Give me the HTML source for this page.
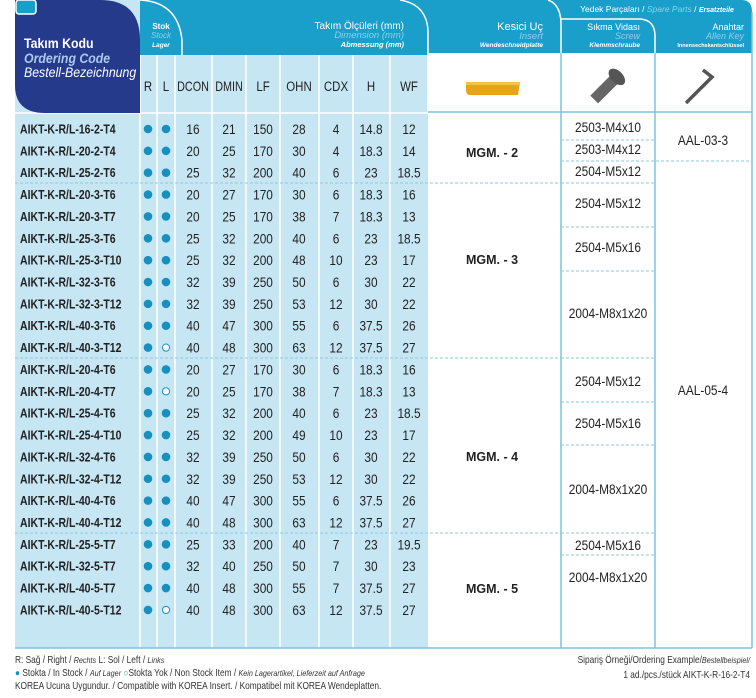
<!DOCTYPE html>
<html><head><meta charset="utf-8"><style>
html,body{margin:0;padding:0;background:#fff;width:756px;height:698px;overflow:hidden}
svg{display:block}
text{font-family:"Liberation Sans",sans-serif}
.n text{font-size:13.5px;fill:#222;text-anchor:middle}
.k{font-size:12.5px;font-weight:bold;fill:#222}
.s{font-size:13.5px;fill:#222;text-anchor:middle}
</style></head><body>
<svg width="756" height="698" viewBox="0 0 756 698" xmlns="http://www.w3.org/2000/svg">
<defs>
<g id="f"><circle cx="148" cy="0" r="4.3" fill="#1790c0"/><circle cx="166" cy="0" r="4.3" fill="#1790c0"/></g>
<g id="o"><circle cx="148" cy="0" r="4.3" fill="#1790c0"/><circle cx="166" cy="0" r="3.6" fill="#fff" stroke="#1790c0" stroke-width="1"/></g>
</defs>
<rect x="15" y="0" width="413" height="648" fill="#c7e6f4"/>
<g stroke="#ffffff" stroke-width="1.5">
<line x1="140" y1="55" x2="140" y2="648"/><line x1="157" y1="55" x2="157" y2="648"/>
<line x1="175" y1="55" x2="175" y2="648"/><line x1="212" y1="55" x2="212" y2="648"/>
<line x1="246" y1="55" x2="246" y2="648"/><line x1="280" y1="55" x2="280" y2="648"/>
<line x1="319" y1="55" x2="319" y2="648"/><line x1="353" y1="55" x2="353" y2="648"/>
<line x1="390" y1="55" x2="390" y2="648"/>
<line x1="15" y1="113" x2="428" y2="113"/>
</g>
<path d="M140 0 H742 Q752 0 752 12 V53 H428 V55 H140 Z" fill="#1a9fca"/>
<path d="M140 0 Q178 2 182 40 V55" fill="none" stroke="#fff" stroke-width="1.5"/>
<path d="M400 0 Q426 4 428 30 V112" fill="none" stroke="#fff" stroke-width="1.5"/>
<path d="M548 0 Q560 4 561 22 V112" fill="none" stroke="#fff" stroke-width="1.5"/>
<path d="M561 19 H640 Q655 20 655 36 V112" fill="none" stroke="#fff" stroke-width="1.5"/>
<rect x="428" y="53" width="324" height="60" fill="#fff"/>
<path d="M15 0 H100 Q140 0 140 40 V113 H45 Q15 113 15 85 Z" fill="#253a8b"/>
<rect x="16" y="0" width="20" height="14" rx="3" fill="#1a9fca" stroke="#fff" stroke-width="1.5"/>
<g transform="translate(24 0) scale(0.88 1)">
<text x="0" y="48" font-size="14" font-weight="bold" fill="#fff">Takım Kodu</text>
<text x="0" y="63" font-size="14" font-style="italic" font-weight="bold" fill="#a9c9ee">Ordering Code</text>
<text x="0" y="77" font-size="14" font-style="italic" fill="#fff">Bestell-Bezeichnung</text>
</g>
<text x="161" y="29" font-size="8" font-weight="bold" fill="#fff" text-anchor="middle">Stok</text>
<text x="161" y="38" font-size="8" font-style="italic" fill="#8fd0ea" text-anchor="middle">Stock</text>
<text x="161" y="47" font-size="6.5" font-style="italic" font-weight="bold" fill="#fff" text-anchor="middle">Lager</text>
<text x="404" y="29" font-size="10" fill="#fff" text-anchor="end">Takım Ölçüleri (mm)</text>
<text x="404" y="38" font-size="9.5" font-style="italic" fill="#8fd0ea" text-anchor="end">Dimension (mm)</text>
<text x="404" y="47" font-size="7.5" font-style="italic" font-weight="bold" fill="#fff" text-anchor="end">Abmessung (mm)</text>
<text x="543" y="30" font-size="11" fill="#fff" text-anchor="end">Kesici Uç</text>
<text x="543" y="39" font-size="9.5" font-style="italic" fill="#8fd0ea" text-anchor="end">Insert</text>
<text x="543" y="47" font-size="6.5" font-style="italic" font-weight="bold" fill="#fff" text-anchor="end">Wendeschneidplatte</text>
<text x="657" y="12" font-size="8.5" fill="#fff" text-anchor="middle">Yedek Parçaları / <tspan font-style="italic" fill="#8fd0ea">Spare Parts</tspan> / <tspan font-style="italic" font-weight="bold" font-size="7">Ersatzteile</tspan></text>
<text x="640" y="30" font-size="9" fill="#fff" text-anchor="end">Sıkma Vidası</text>
<text x="640" y="39" font-size="9" font-style="italic" fill="#8fd0ea" text-anchor="end">Screw</text>
<text x="640" y="47" font-size="6.5" font-style="italic" font-weight="bold" fill="#fff" text-anchor="end">Klemmschraube</text>
<text x="744" y="30" font-size="9" fill="#fff" text-anchor="end">Anahtar</text>
<text x="744" y="39" font-size="9" font-style="italic" fill="#8fd0ea" text-anchor="end">Allen Key</text>
<text x="744" y="47" font-size="5.5" font-weight="bold" fill="#fff" text-anchor="end">Innensechskantschlüssel</text>
<g class="n" transform="translate(0 91)">
<text transform="translate(148 0) scale(.85 1)">R</text><text transform="translate(166 0) scale(.85 1)">L</text>
<text transform="translate(193 0) scale(.8 1)">DCON</text><text transform="translate(229 0) scale(.8 1)">DMIN</text>
<text transform="translate(263 0) scale(.85 1)">LF</text><text transform="translate(299 0) scale(.85 1)">OHN</text>
<text transform="translate(336 0) scale(.85 1)">CDX</text><text transform="translate(371 0) scale(.85 1)">H</text>
<text transform="translate(409 0) scale(.85 1)">WF</text>
</g>
<path d="M466 82 H520 L518 95 H470 Q466 95 466 90 Z" fill="#e9a317"/>
<rect x="466" y="82" width="54" height="3" fill="#f5c343"/>
<g transform="rotate(-45 608 85)">
<rect x="588" y="80" width="28" height="11" fill="#666"/>
<ellipse cx="620" cy="85.5" rx="6" ry="10" fill="#555"/>
</g>
<path d="M686 103 L712 77 L703 70" fill="none" stroke="#555" stroke-width="3.5"/>
<g stroke="#7cc3de" stroke-width="1.5" fill="none">
<line x1="428" y1="112" x2="752" y2="112"/>
<line x1="561" y1="53" x2="561" y2="648"/>
<line x1="655" y1="53" x2="655" y2="648"/>
<line x1="752" y1="12" x2="752" y2="648"/>
<line x1="15" y1="648" x2="752" y2="648"/>
</g>
<g stroke="#8cc9e0" stroke-width="1" stroke-dasharray="3,2" fill="none">
<line x1="15" y1="183" x2="561" y2="183"/>
<line x1="15" y1="358" x2="561" y2="358"/>
<line x1="15" y1="533" x2="561" y2="533"/>
<line x1="561" y1="140" x2="655" y2="140"/>
<line x1="561" y1="161" x2="752" y2="161"/>
<line x1="561" y1="183" x2="655" y2="183"/>
<line x1="561" y1="227" x2="655" y2="227"/>
<line x1="561" y1="271" x2="655" y2="271"/>
<line x1="561" y1="358" x2="655" y2="358"/>
<line x1="561" y1="402" x2="655" y2="402"/>
<line x1="561" y1="445" x2="655" y2="445"/>
<line x1="561" y1="533" x2="655" y2="533"/>
<line x1="561" y1="555" x2="655" y2="555"/>
</g>

<g transform="translate(0 129)"><use href="#f"/><text class="k" transform="translate(20 4.5) scale(.84 1)">AIKT-K-R/L-16-2-T4</text><g class="n"><text transform="translate(193 5) scale(.88 1)">16</text><text transform="translate(229 5) scale(.88 1)">21</text><text transform="translate(263 5) scale(.88 1)">150</text><text transform="translate(299 5) scale(.88 1)">28</text><text transform="translate(336 5) scale(.88 1)">4</text><text transform="translate(371 5) scale(.88 1)">14.8</text><text transform="translate(409 5) scale(.88 1)">12</text></g></g>
<g transform="translate(0 150.86)"><use href="#f"/><text class="k" transform="translate(20 4.5) scale(.84 1)">AIKT-K-R/L-20-2-T4</text><g class="n"><text transform="translate(193 5) scale(.88 1)">20</text><text transform="translate(229 5) scale(.88 1)">25</text><text transform="translate(263 5) scale(.88 1)">170</text><text transform="translate(299 5) scale(.88 1)">30</text><text transform="translate(336 5) scale(.88 1)">4</text><text transform="translate(371 5) scale(.88 1)">18.3</text><text transform="translate(409 5) scale(.88 1)">14</text></g></g>
<g transform="translate(0 172.72)"><use href="#f"/><text class="k" transform="translate(20 4.5) scale(.84 1)">AIKT-K-R/L-25-2-T6</text><g class="n"><text transform="translate(193 5) scale(.88 1)">25</text><text transform="translate(229 5) scale(.88 1)">32</text><text transform="translate(263 5) scale(.88 1)">200</text><text transform="translate(299 5) scale(.88 1)">40</text><text transform="translate(336 5) scale(.88 1)">6</text><text transform="translate(371 5) scale(.88 1)">23</text><text transform="translate(409 5) scale(.88 1)">18.5</text></g></g>
<g transform="translate(0 194.58)"><use href="#f"/><text class="k" transform="translate(20 4.5) scale(.84 1)">AIKT-K-R/L-20-3-T6</text><g class="n"><text transform="translate(193 5) scale(.88 1)">20</text><text transform="translate(229 5) scale(.88 1)">27</text><text transform="translate(263 5) scale(.88 1)">170</text><text transform="translate(299 5) scale(.88 1)">30</text><text transform="translate(336 5) scale(.88 1)">6</text><text transform="translate(371 5) scale(.88 1)">18.3</text><text transform="translate(409 5) scale(.88 1)">16</text></g></g>
<g transform="translate(0 216.44)"><use href="#f"/><text class="k" transform="translate(20 4.5) scale(.84 1)">AIKT-K-R/L-20-3-T7</text><g class="n"><text transform="translate(193 5) scale(.88 1)">20</text><text transform="translate(229 5) scale(.88 1)">25</text><text transform="translate(263 5) scale(.88 1)">170</text><text transform="translate(299 5) scale(.88 1)">38</text><text transform="translate(336 5) scale(.88 1)">7</text><text transform="translate(371 5) scale(.88 1)">18.3</text><text transform="translate(409 5) scale(.88 1)">13</text></g></g>
<g transform="translate(0 238.3)"><use href="#f"/><text class="k" transform="translate(20 4.5) scale(.84 1)">AIKT-K-R/L-25-3-T6</text><g class="n"><text transform="translate(193 5) scale(.88 1)">25</text><text transform="translate(229 5) scale(.88 1)">32</text><text transform="translate(263 5) scale(.88 1)">200</text><text transform="translate(299 5) scale(.88 1)">40</text><text transform="translate(336 5) scale(.88 1)">6</text><text transform="translate(371 5) scale(.88 1)">23</text><text transform="translate(409 5) scale(.88 1)">18.5</text></g></g>
<g transform="translate(0 260.16)"><use href="#f"/><text class="k" transform="translate(20 4.5) scale(.84 1)">AIKT-K-R/L-25-3-T10</text><g class="n"><text transform="translate(193 5) scale(.88 1)">25</text><text transform="translate(229 5) scale(.88 1)">32</text><text transform="translate(263 5) scale(.88 1)">200</text><text transform="translate(299 5) scale(.88 1)">48</text><text transform="translate(336 5) scale(.88 1)">10</text><text transform="translate(371 5) scale(.88 1)">23</text><text transform="translate(409 5) scale(.88 1)">17</text></g></g>
<g transform="translate(0 282.02)"><use href="#f"/><text class="k" transform="translate(20 4.5) scale(.84 1)">AIKT-K-R/L-32-3-T6</text><g class="n"><text transform="translate(193 5) scale(.88 1)">32</text><text transform="translate(229 5) scale(.88 1)">39</text><text transform="translate(263 5) scale(.88 1)">250</text><text transform="translate(299 5) scale(.88 1)">50</text><text transform="translate(336 5) scale(.88 1)">6</text><text transform="translate(371 5) scale(.88 1)">30</text><text transform="translate(409 5) scale(.88 1)">22</text></g></g>
<g transform="translate(0 303.88)"><use href="#f"/><text class="k" transform="translate(20 4.5) scale(.84 1)">AIKT-K-R/L-32-3-T12</text><g class="n"><text transform="translate(193 5) scale(.88 1)">32</text><text transform="translate(229 5) scale(.88 1)">39</text><text transform="translate(263 5) scale(.88 1)">250</text><text transform="translate(299 5) scale(.88 1)">53</text><text transform="translate(336 5) scale(.88 1)">12</text><text transform="translate(371 5) scale(.88 1)">30</text><text transform="translate(409 5) scale(.88 1)">22</text></g></g>
<g transform="translate(0 325.74)"><use href="#f"/><text class="k" transform="translate(20 4.5) scale(.84 1)">AIKT-K-R/L-40-3-T6</text><g class="n"><text transform="translate(193 5) scale(.88 1)">40</text><text transform="translate(229 5) scale(.88 1)">47</text><text transform="translate(263 5) scale(.88 1)">300</text><text transform="translate(299 5) scale(.88 1)">55</text><text transform="translate(336 5) scale(.88 1)">6</text><text transform="translate(371 5) scale(.88 1)">37.5</text><text transform="translate(409 5) scale(.88 1)">26</text></g></g>
<g transform="translate(0 347.6)"><use href="#o"/><text class="k" transform="translate(20 4.5) scale(.84 1)">AIKT-K-R/L-40-3-T12</text><g class="n"><text transform="translate(193 5) scale(.88 1)">40</text><text transform="translate(229 5) scale(.88 1)">48</text><text transform="translate(263 5) scale(.88 1)">300</text><text transform="translate(299 5) scale(.88 1)">63</text><text transform="translate(336 5) scale(.88 1)">12</text><text transform="translate(371 5) scale(.88 1)">37.5</text><text transform="translate(409 5) scale(.88 1)">27</text></g></g>
<g transform="translate(0 369.46)"><use href="#f"/><text class="k" transform="translate(20 4.5) scale(.84 1)">AIKT-K-R/L-20-4-T6</text><g class="n"><text transform="translate(193 5) scale(.88 1)">20</text><text transform="translate(229 5) scale(.88 1)">27</text><text transform="translate(263 5) scale(.88 1)">170</text><text transform="translate(299 5) scale(.88 1)">30</text><text transform="translate(336 5) scale(.88 1)">6</text><text transform="translate(371 5) scale(.88 1)">18.3</text><text transform="translate(409 5) scale(.88 1)">16</text></g></g>
<g transform="translate(0 391.32)"><use href="#o"/><text class="k" transform="translate(20 4.5) scale(.84 1)">AIKT-K-R/L-20-4-T7</text><g class="n"><text transform="translate(193 5) scale(.88 1)">20</text><text transform="translate(229 5) scale(.88 1)">25</text><text transform="translate(263 5) scale(.88 1)">170</text><text transform="translate(299 5) scale(.88 1)">38</text><text transform="translate(336 5) scale(.88 1)">7</text><text transform="translate(371 5) scale(.88 1)">18.3</text><text transform="translate(409 5) scale(.88 1)">13</text></g></g>
<g transform="translate(0 413.18)"><use href="#f"/><text class="k" transform="translate(20 4.5) scale(.84 1)">AIKT-K-R/L-25-4-T6</text><g class="n"><text transform="translate(193 5) scale(.88 1)">25</text><text transform="translate(229 5) scale(.88 1)">32</text><text transform="translate(263 5) scale(.88 1)">200</text><text transform="translate(299 5) scale(.88 1)">40</text><text transform="translate(336 5) scale(.88 1)">6</text><text transform="translate(371 5) scale(.88 1)">23</text><text transform="translate(409 5) scale(.88 1)">18.5</text></g></g>
<g transform="translate(0 435.04)"><use href="#f"/><text class="k" transform="translate(20 4.5) scale(.84 1)">AIKT-K-R/L-25-4-T10</text><g class="n"><text transform="translate(193 5) scale(.88 1)">25</text><text transform="translate(229 5) scale(.88 1)">32</text><text transform="translate(263 5) scale(.88 1)">200</text><text transform="translate(299 5) scale(.88 1)">49</text><text transform="translate(336 5) scale(.88 1)">10</text><text transform="translate(371 5) scale(.88 1)">23</text><text transform="translate(409 5) scale(.88 1)">17</text></g></g>
<g transform="translate(0 456.9)"><use href="#f"/><text class="k" transform="translate(20 4.5) scale(.84 1)">AIKT-K-R/L-32-4-T6</text><g class="n"><text transform="translate(193 5) scale(.88 1)">32</text><text transform="translate(229 5) scale(.88 1)">39</text><text transform="translate(263 5) scale(.88 1)">250</text><text transform="translate(299 5) scale(.88 1)">50</text><text transform="translate(336 5) scale(.88 1)">6</text><text transform="translate(371 5) scale(.88 1)">30</text><text transform="translate(409 5) scale(.88 1)">22</text></g></g>
<g transform="translate(0 478.76)"><use href="#f"/><text class="k" transform="translate(20 4.5) scale(.84 1)">AIKT-K-R/L-32-4-T12</text><g class="n"><text transform="translate(193 5) scale(.88 1)">32</text><text transform="translate(229 5) scale(.88 1)">39</text><text transform="translate(263 5) scale(.88 1)">250</text><text transform="translate(299 5) scale(.88 1)">53</text><text transform="translate(336 5) scale(.88 1)">12</text><text transform="translate(371 5) scale(.88 1)">30</text><text transform="translate(409 5) scale(.88 1)">22</text></g></g>
<g transform="translate(0 500.62)"><use href="#f"/><text class="k" transform="translate(20 4.5) scale(.84 1)">AIKT-K-R/L-40-4-T6</text><g class="n"><text transform="translate(193 5) scale(.88 1)">40</text><text transform="translate(229 5) scale(.88 1)">47</text><text transform="translate(263 5) scale(.88 1)">300</text><text transform="translate(299 5) scale(.88 1)">55</text><text transform="translate(336 5) scale(.88 1)">6</text><text transform="translate(371 5) scale(.88 1)">37.5</text><text transform="translate(409 5) scale(.88 1)">26</text></g></g>
<g transform="translate(0 522.48)"><use href="#f"/><text class="k" transform="translate(20 4.5) scale(.84 1)">AIKT-K-R/L-40-4-T12</text><g class="n"><text transform="translate(193 5) scale(.88 1)">40</text><text transform="translate(229 5) scale(.88 1)">48</text><text transform="translate(263 5) scale(.88 1)">300</text><text transform="translate(299 5) scale(.88 1)">63</text><text transform="translate(336 5) scale(.88 1)">12</text><text transform="translate(371 5) scale(.88 1)">37.5</text><text transform="translate(409 5) scale(.88 1)">27</text></g></g>
<g transform="translate(0 544.34)"><use href="#f"/><text class="k" transform="translate(20 4.5) scale(.84 1)">AIKT-K-R/L-25-5-T7</text><g class="n"><text transform="translate(193 5) scale(.88 1)">25</text><text transform="translate(229 5) scale(.88 1)">33</text><text transform="translate(263 5) scale(.88 1)">200</text><text transform="translate(299 5) scale(.88 1)">40</text><text transform="translate(336 5) scale(.88 1)">7</text><text transform="translate(371 5) scale(.88 1)">23</text><text transform="translate(409 5) scale(.88 1)">19.5</text></g></g>
<g transform="translate(0 566.2)"><use href="#f"/><text class="k" transform="translate(20 4.5) scale(.84 1)">AIKT-K-R/L-32-5-T7</text><g class="n"><text transform="translate(193 5) scale(.88 1)">32</text><text transform="translate(229 5) scale(.88 1)">40</text><text transform="translate(263 5) scale(.88 1)">250</text><text transform="translate(299 5) scale(.88 1)">50</text><text transform="translate(336 5) scale(.88 1)">7</text><text transform="translate(371 5) scale(.88 1)">30</text><text transform="translate(409 5) scale(.88 1)">23</text></g></g>
<g transform="translate(0 588.06)"><use href="#f"/><text class="k" transform="translate(20 4.5) scale(.84 1)">AIKT-K-R/L-40-5-T7</text><g class="n"><text transform="translate(193 5) scale(.88 1)">40</text><text transform="translate(229 5) scale(.88 1)">48</text><text transform="translate(263 5) scale(.88 1)">300</text><text transform="translate(299 5) scale(.88 1)">55</text><text transform="translate(336 5) scale(.88 1)">7</text><text transform="translate(371 5) scale(.88 1)">37.5</text><text transform="translate(409 5) scale(.88 1)">27</text></g></g>
<g transform="translate(0 609.92)"><use href="#o"/><text class="k" transform="translate(20 4.5) scale(.84 1)">AIKT-K-R/L-40-5-T12</text><g class="n"><text transform="translate(193 5) scale(.88 1)">40</text><text transform="translate(229 5) scale(.88 1)">48</text><text transform="translate(263 5) scale(.88 1)">300</text><text transform="translate(299 5) scale(.88 1)">63</text><text transform="translate(336 5) scale(.88 1)">12</text><text transform="translate(371 5) scale(.88 1)">37.5</text><text transform="translate(409 5) scale(.88 1)">27</text></g></g>

<g font-size="12.5" font-weight="bold" fill="#222" text-anchor="middle">
<text x="492" y="157">MGM. - 2</text><text x="492" y="264">MGM. - 3</text>
<text x="492" y="461">MGM. - 4</text><text x="492" y="593">MGM. - 5</text>
</g>
<g class="s">
<text class="s" transform="translate(608 132) scale(.88 1)">2503-M4x10</text><text class="s" transform="translate(608 154) scale(.88 1)">2503-M4x12</text>
<text class="s" transform="translate(608 176) scale(.88 1)">2504-M5x12</text><text class="s" transform="translate(608 208) scale(.88 1)">2504-M5x12</text>
<text class="s" transform="translate(608 252) scale(.88 1)">2504-M5x16</text><text class="s" transform="translate(608 318) scale(.88 1)">2004-M8x1x20</text>
<text class="s" transform="translate(608 386) scale(.88 1)">2504-M5x12</text><text class="s" transform="translate(608 428) scale(.88 1)">2504-M5x16</text>
<text class="s" transform="translate(608 494) scale(.88 1)">2004-M8x1x20</text><text class="s" transform="translate(608 550) scale(.88 1)">2504-M5x16</text>
<text class="s" transform="translate(608 582) scale(.88 1)">2004-M8x1x20</text>
<text class="s" transform="translate(703 145) scale(.88 1)">AAL-03-3</text><text class="s" transform="translate(703 395) scale(.88 1)">AAL-05-4</text>
</g>
<g font-size="9.8" fill="#333">
<text transform="translate(15 663) scale(.85 1)">R: Sağ / Right / <tspan font-style="italic" font-size="8.5">Rechts</tspan>   L: Sol / Left / <tspan font-style="italic" font-size="8.5">Links</tspan></text>
<text transform="translate(15 676) scale(.85 1)"><tspan fill="#1790c0">●</tspan> Stokta / In Stock / <tspan font-style="italic" font-size="8.5">Auf Lager</tspan>  <tspan fill="#1790c0">○</tspan>Stokta Yok / Non Stock Item / <tspan font-style="italic" font-size="8.5">Kein Lagerartikel, Lieferzeit auf Anfrage</tspan></text>
<text transform="translate(15 689) scale(.85 1)">KOREA Ucuna Uygundur. / Compatible with KOREA Insert. / Kompatibel mit KOREA Wendeplatten.</text>
<text text-anchor="end" transform="translate(750 663) scale(.85 1)">Sipariş Örneği/Ordering Example/<tspan font-style="italic" font-size="8.5">Bestellbeispiel/</tspan></text>
<text text-anchor="end" transform="translate(750 678) scale(.85 1)">1 ad./pcs./stück AIKT-K-R-16-2-T4</text>
</g>
</svg>
</body></html>
